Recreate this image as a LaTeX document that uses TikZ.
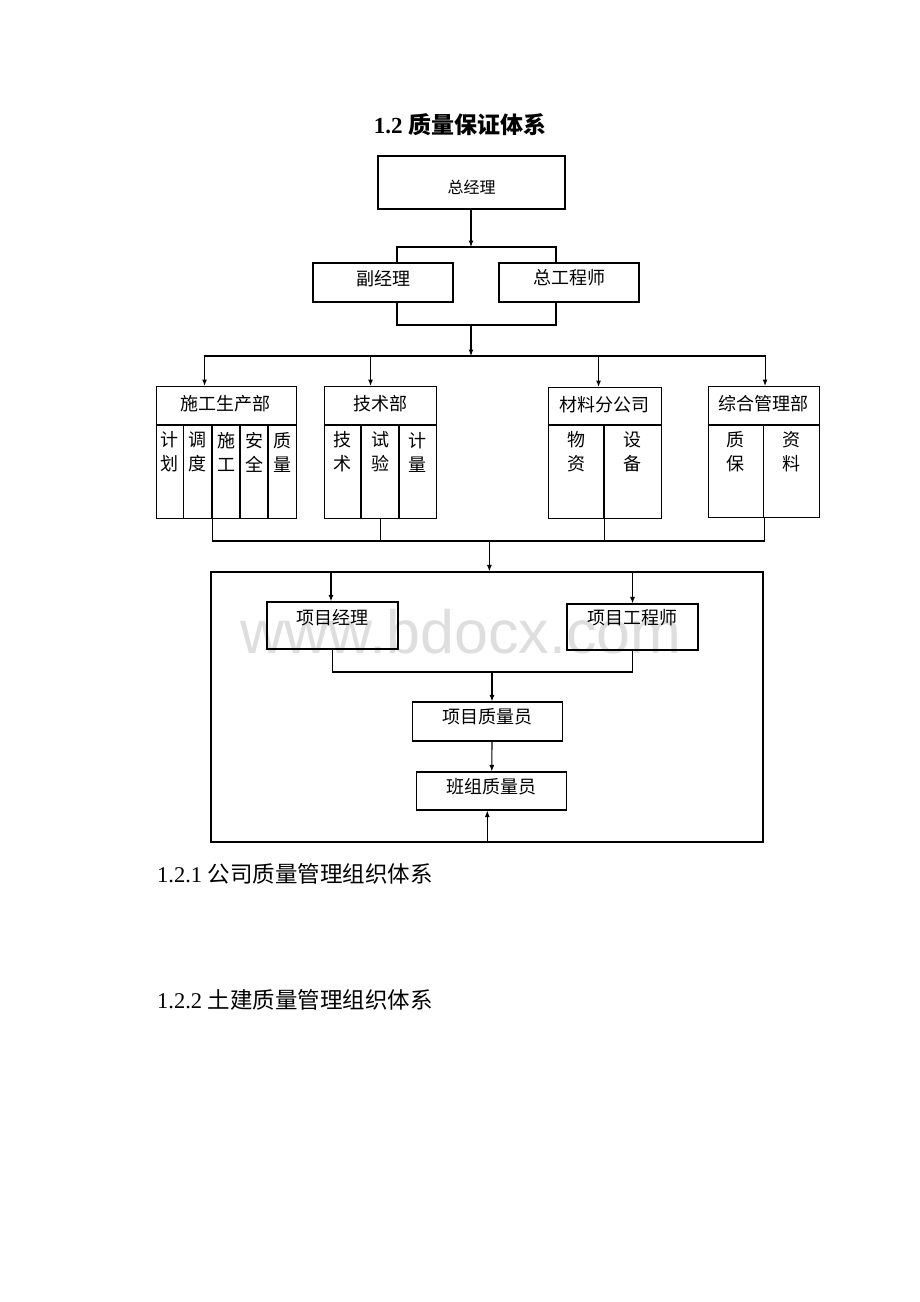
\documentclass[tikz,border=0pt]{standalone}
\usepackage{fontspec}
\setmainfont{Liberation Serif}
\newfontfamily\cjk{Noto Sans CJK SC}
\newfontfamily\wmfont{Liberation Sans}
\usetikzlibrary{arrows.meta}

\begin{document}
\begin{tikzpicture}[x=1pt,y=-1pt,
  box/.style={draw, line width=1.1pt, rectangle, inner sep=0pt},
  arr/.style={line width=1.1pt, -{Latex[length=6.5pt,width=5pt]}},
  ln/.style={line width=1.1pt},
  lbl/.style={inner sep=0pt, font=\cjk\fontsize{18}{24}\selectfont, align=center},
]
\useasboundingbox (0,0) rectangle (920,1302);

% watermark
\node[text=black!13, font=\wmfont\fontsize{61}{61}\selectfont, inner sep=0pt] (wm) at (461,632) {www.bdocx.com};

% title
\node[anchor=base, inner sep=0pt, font=\fontsize{23}{28}\selectfont\bfseries] (title) at (460,133) {1.2 {\cjk 质量保证体系}};

% top boxes
\node[box, minimum width=187, minimum height=53] (gm) at (471.5,182.5) {};
\node[lbl, font=\cjk\fontsize{16}{20}\selectfont] (gmt) at ([yshift=-5]gm.center) {总经理};
\node[box, minimum width=140, minimum height=39] (fu) at (383,282.5) {};
\node[lbl] (fut) at ([yshift=4]fu.center) {副经理};
\node[box, minimum width=140, minimum height=39] (zg) at (569,282.5) {};
\node[lbl] (zgt) at ([yshift=5]zg.center) {总工程师};

% departments
\node[box, anchor=north west, minimum width=140.5, minimum height=132] (d1) at (155.5,386) {};
\node[box, anchor=north west, minimum width=112, minimum height=132] (d2) at (324,386) {};
\node[box, anchor=north west, minimum width=112.5, minimum height=131] (d3) at (548,387) {};
\node[box, anchor=north west, minimum width=111, minimum height=131] (d4) at (707.5,386) {};

\draw[ln] (155.5,425) -- (296,425);
\draw[ln] (324,425) -- (436,425);
\draw[ln] (548,425) -- (660.5,425);
\draw[ln] (707.5,425) -- (818.5,425);
\foreach \xx in {183.5,212,240,268} \draw[ln] (\xx,425) -- (\xx,518);
\foreach \xx in {361,399} \draw[ln] (\xx,425) -- (\xx,518);
\draw[ln] (604,425) -- (604,518);
\draw[ln] (763.6,425) -- (763.6,517);

\node[lbl] (h1) at (225.75,404) {施工生产部};
\node[lbl] (h2) at (380,404) {技术部};
\node[lbl] (h3) at (604,405) {材料分公司};
\node[lbl] (h4) at (763,404) {综合管理部};

\node[lbl] (c11) at (169.5,452) {计\\划};
\node[lbl] (c12) at (197.75,452) {调\\度};
\node[lbl] (c13) at (226,452) {施\\工};
\node[lbl] (c14) at (254,452) {安\\全};
\node[lbl] (c15) at (282,452) {质\\量};
\node[lbl] (c21) at (342.5,452) {技\\术};
\node[lbl] (c22) at (380,452) {试\\验};
\node[lbl] (c23) at (417.5,452) {计\\量};
\node[lbl] (c31) at (576,452) {物\\资};
\node[lbl] (c32) at (632,452) {设\\备};
\node[lbl] (c41) at (735.5,452) {质\\保};
\node[lbl] (c42) at (791.3,452) {资\\料};

% outer project box
\node[box, minimum width=552, minimum height=270] (outer) at (487,707) {};
\node[box, minimum width=131, minimum height=47] (pm) at (332.5,625.5) {};
\node[lbl] (pmt) at ([yshift=8]pm.center) {项目经理};
\node[box, minimum width=131, minimum height=46] (pe) at (632.5,627) {};
\node[lbl] (pet) at ([yshift=9]pe.center) {项目工程师};
\node[box, minimum width=150, minimum height=39] (qa) at (487.4,721.5) {};
\node[lbl] (qat) at ([yshift=5]qa.center) {项目质量员};
\node[box, minimum width=150, minimum height=38] (tq) at (491.8,791) {};
\node[lbl] (tqt) at ([yshift=4]tq.center) {班组质量员};

% connectors
\coordinate (j1) at (471,247);
\coordinate (j2) at (471,325);
\coordinate (j3) at (471,356);
\coordinate (j4) at (489.4,541);
\coordinate (j5) at (492,672);

\draw[arr] (gm.south -| j1) -- (j1);
\draw[ln] ([xshift=14]fu.north) |- (j1) -| ([xshift=-13]zg.north);
\draw[ln] ([xshift=14]fu.south) |- (j2) -| ([xshift=-13]zg.south);
\draw[arr] (j2) -- (j3);
\draw[arr] (j3) -| ([xshift=-21.75]d1.north);
\draw[arr] (j3) -| ([xshift=-10]d2.north);
\draw[arr] (j3) -| ([xshift=-6.25]d3.north);
\draw[arr] (j3) -| ([xshift=1.5]d4.north);

\draw[ln] ([xshift=-13.75]d1.south) |- (j4);
\draw[ln] (d2.south) |- (j4);
\draw[ln] ([xshift=-0.25]d3.south) |- (j4);
\draw[ln] ([xshift=0.6]d4.south) |- (j4);
\draw[arr] (j4) -- (j4 |- outer.north);

\draw[arr] ([xshift=-1.5]pm.north |- outer.north) -- ([xshift=-1.5]pm.north);
\draw[arr] (pe.north |- outer.north) -- (pe.north);
\draw[ln] (pm.south) |- (j5) -| (pe.south);
\draw[arr] (j5) -- (j5 |- qa.north);
\draw[arr] (j5 |- qa.south) -- (tq.north);
\coordinate (u) at ([xshift=-4.5]tq.south);
\draw[arr] (u |- outer.south) -- (u);

% section headings
\node[anchor=base west, inner sep=0pt, font=\fontsize{22.5}{27}\selectfont] (s1) at (157,882) {1.2.1 {\cjk 公司质量管理组织体系}};
\node[anchor=base west, inner sep=0pt, font=\fontsize{22.5}{27}\selectfont] (s2) at (157,1008) {1.2.2 {\cjk 土建质量管理组织体系}};
\end{tikzpicture}
\end{document}
